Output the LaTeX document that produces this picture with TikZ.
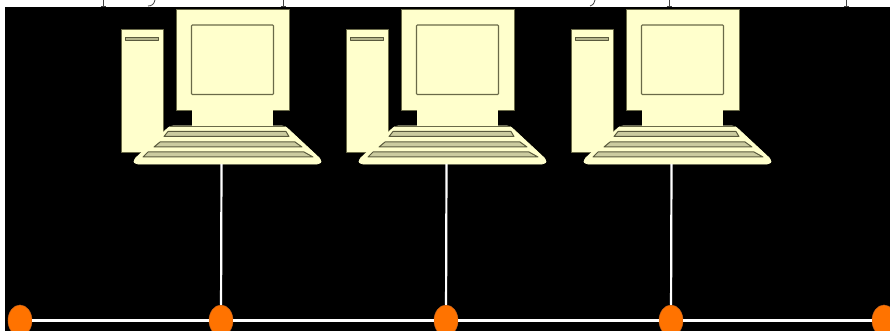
\documentclass[tikz,border=0pt]{standalone}
\usepackage{tikz}
\usetikzlibrary{shapes.geometric}
\definecolor{cream}{HTML}{FFFFCC}
\definecolor{olive}{HTML}{6A6A48}
\definecolor{slotc}{HTML}{B4B48C}
\definecolor{busorange}{HTML}{FF7300}
\definecolor{busedge}{HTML}{C8641E}
\tikzset{
  x=1pt,y=-1pt,
  body/.style={fill=cream,draw=olive,line width=0.7pt,line join=round},
  keyrow/.style={fill=slotc!70!cream,draw=olive!85!black,line width=1pt,line join=round},
  tap/.style={ellipse,fill=busorange,draw=busedge,line width=0.5pt,minimum width=24pt,minimum height=31pt,inner sep=0pt},
  wire/.style={draw=white,line width=2.6pt},
  riser/.style={draw=white,line width=2.2pt},
  stem/.style={draw=black!75,line width=0.8pt},
  pics/computer/.style={code={
    \draw[body] (121,29) rectangle (163,152);
    \draw[keyrow,fill=slotc,line width=0.9pt] (125.5,37.5) rectangle (158.5,40);
    \draw[body] (176,9) rectangle (289,110);
    \draw[body,line width=1.1pt,rounded corners=0.8pt] (191.5,25) rectangle (273.5,94.5);
    \fill[cream] (192,110.5) rectangle (273,126);
    \draw[body,rounded corners=3pt,draw=cream] (170,126) -- (285,126) -- (321.5,160) -- (320,164) -- (135,164) -- (133.5,160) -- cycle;
    \draw[olive,line width=0.7pt] (170,126) -- (285,126);
    \draw[keyrow] (168,131.5) -- (286,131.5) -- (289,136.5) -- (164,136.5) -- cycle;
    \draw[keyrow] (160,142) -- (295,142) -- (302,147) -- (154,147) -- cycle;
    \draw[keyrow] (148,152) -- (304,152) -- (313,157) -- (143,157) -- cycle;
    \coordinate (-foot) at (221.5,164);
  }}
}
\begin{document}
\begin{tikzpicture}
\useasboundingbox (0,0) rectangle (890,331);
\clip (0,0) rectangle (890,331);
\fill[white] (0,0) rectangle (890,331);
\fill[black] (5,7) rectangle (890,331);
% clipped remains of a cut-off line of text above the picture
\draw[stem] (103,0) -- (103,6.5) (100.5,6.5) -- (105.5,6.5);
\draw[stem] (283,0) -- (283,6.5) (280.5,6.5) -- (285.5,6.5);
\draw[stem] (669,0) -- (669,6.5) (666.5,6.5) -- (671.5,6.5);
\draw[stem] (846,0) -- (846,6.5) (843.5,6.5) -- (848.5,6.5);
\draw[stem] (155,0) .. controls (154,4) and (152,6) .. (148,6);
\draw[stem] (595,0) .. controls (594,4) and (592,6) .. (590,6);
\pic (pa) at (0,0) {computer};
\pic (pb) at (225,0) {computer};
\pic (pc) at (450,0) {computer};
\node[tap] (t0) at (20,320.5) {};
\node[tap] (t1) at (221,320.5) {};
\node[tap] (t2) at (446,320.5) {};
\node[tap] (t3) at (671,320.5) {};
\node[tap] (t4) at (884,320.5) {};
\draw[riser] (pa-foot) -- (t1);
\draw[riser] (pb-foot) -- (t2);
\draw[riser] (pc-foot) -- (t3);
\draw[wire] (t0) -- (t1);
\draw[wire] (t1) -- (t2);
\draw[wire] (t2) -- (t3);
\draw[wire] (t3) -- (t4);
\end{tikzpicture}
\end{document}
